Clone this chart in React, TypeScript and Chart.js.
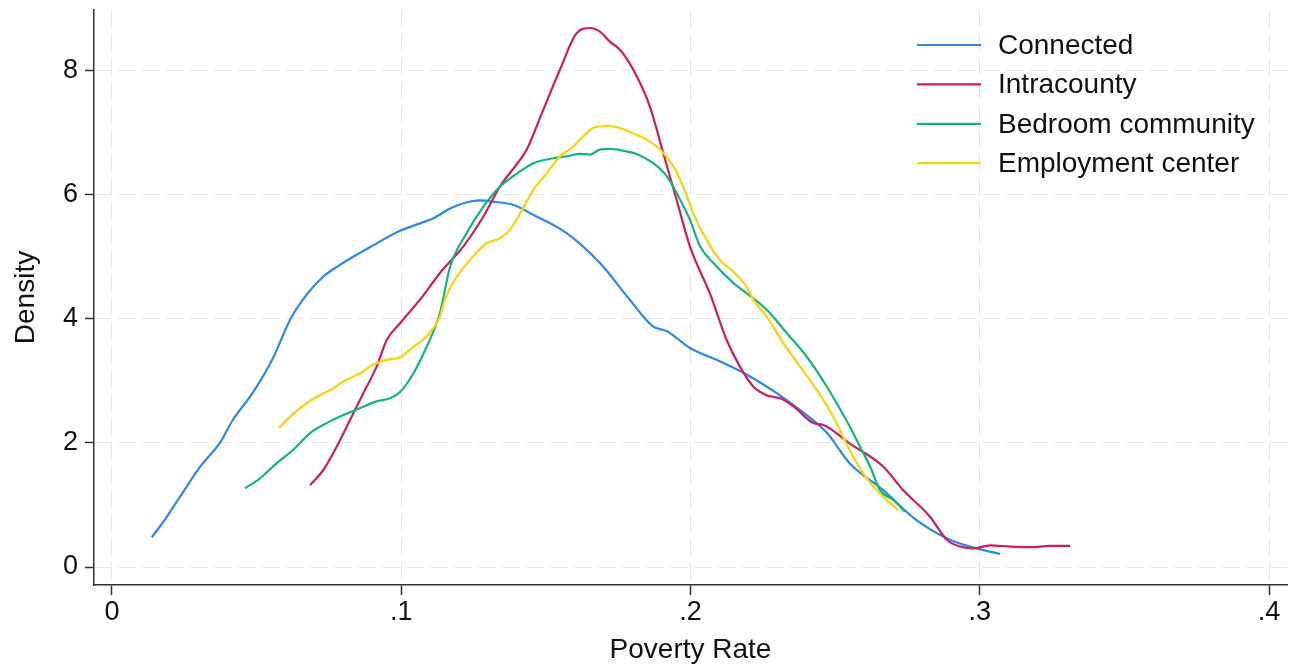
import React, { useEffect, useRef } from "react";
import { Chart, registerables } from "chart.js";

Chart.register(...registerables);

const seriesLabels = ["Connected", "Intracounty", "Bedroom community", "Employment center"];
const seriesColors = ["#2a88ee", "#cf1c5c", "#14b47c", "#f8d20c"];

const xTickValues = [0, 0.1, 0.2, 0.3, 0.4];
const xTickLabels = ["0", ".1", ".2", ".3", ".4"];
const yTickValues = [0, 2, 4, 6, 8];
const yTickLabels = ["0", "2", "4", "6", "8"];

const connectedX = [0.0138, 0.019, 0.0235, 0.0304, 0.0373, 0.0418, 0.0487, 0.0557, 0.0615, 0.066, 0.073, 0.0788, 0.089, 0.0996, 0.1065, 0.111, 0.1169, 0.1227, 0.1272, 0.1317, 0.1386, 0.1456, 0.1573, 0.1687, 0.179, 0.187, 0.1919, 0.1998, 0.209, 0.2195, 0.2299, 0.2379, 0.2472, 0.2551, 0.2666, 0.278, 0.2897, 0.299, 0.307];
const connectedY = [0.48, 0.81, 1.13, 1.61, 2.0, 2.37, 2.81, 3.37, 3.98, 4.31, 4.68, 4.87, 5.15, 5.42, 5.54, 5.62, 5.78, 5.88, 5.91, 5.89, 5.84, 5.68, 5.38, 4.9, 4.31, 3.88, 3.8, 3.53, 3.34, 3.1, 2.8, 2.53, 2.16, 1.67, 1.24, 0.76, 0.44, 0.3, 0.21];

const intracountyX = [0.0685, 0.073, 0.0777, 0.0823, 0.0869, 0.0915, 0.095, 0.0996, 0.1065, 0.1134, 0.1215, 0.1284, 0.1341, 0.141, 0.1434, 0.1491, 0.1549, 0.1607, 0.1653, 0.1687, 0.1721, 0.1756, 0.1802, 0.186, 0.1906, 0.1952, 0.1998, 0.2067, 0.2125, 0.2171, 0.2217, 0.2263, 0.231, 0.2356, 0.2425, 0.2459, 0.2551, 0.2666, 0.2735, 0.2828, 0.2886, 0.2932, 0.2978, 0.3035, 0.3105, 0.3174, 0.3243, 0.3312];
const intracountyY = [1.32, 1.56, 1.94, 2.37, 2.8, 3.23, 3.66, 3.93, 4.31, 4.74, 5.17, 5.65, 6.13, 6.56, 6.73, 7.37, 8.02, 8.61, 8.69, 8.63, 8.47, 8.34, 8.02, 7.42, 6.67, 5.92, 5.17, 4.41, 3.66, 3.23, 2.91, 2.77, 2.72, 2.59, 2.32, 2.29, 1.99, 1.62, 1.24, 0.81, 0.44, 0.33, 0.3, 0.35, 0.33, 0.32, 0.34, 0.34];

const bedroomX = [0.046, 0.0512, 0.0569, 0.0627, 0.0685, 0.0742, 0.08, 0.0857, 0.0915, 0.0961, 0.0996, 0.1042, 0.1088, 0.1134, 0.1169, 0.1226, 0.1284, 0.1341, 0.1387, 0.1457, 0.1526, 0.1572, 0.1618, 0.1653, 0.1687, 0.1722, 0.1779, 0.1814, 0.1871, 0.1918, 0.1952, 0.1998, 0.2033, 0.2079, 0.2148, 0.2217, 0.2263, 0.2333, 0.2402, 0.2471, 0.2551, 0.2586, 0.2621, 0.2655, 0.2701, 0.2742];
const bedroomY = [1.27, 1.43, 1.67, 1.89, 2.16, 2.32, 2.45, 2.56, 2.67, 2.72, 2.82, 3.12, 3.55, 4.1, 4.84, 5.38, 5.81, 6.13, 6.3, 6.51, 6.59, 6.62, 6.66, 6.65, 6.73, 6.74, 6.7, 6.66, 6.51, 6.3, 6.03, 5.6, 5.17, 4.9, 4.58, 4.33, 4.15, 3.77, 3.39, 2.91, 2.26, 1.94, 1.62, 1.24, 1.08, 0.89];

const employmentX = [0.0578, 0.0615, 0.0673, 0.0731, 0.0754, 0.08, 0.0857, 0.0903, 0.095, 0.0996, 0.1042, 0.1088, 0.1134, 0.1151, 0.1192, 0.1249, 0.1295, 0.1341, 0.1376, 0.1411, 0.1457, 0.1503, 0.1549, 0.1595, 0.1629, 0.1664, 0.171, 0.1756, 0.1802, 0.1849, 0.1895, 0.1941, 0.1975, 0.201, 0.2056, 0.2102, 0.2148, 0.2194, 0.2217, 0.2263, 0.2321, 0.2379, 0.2437, 0.2494, 0.2551, 0.2597, 0.2632, 0.2678, 0.2718];
const employmentY = [2.24, 2.42, 2.64, 2.8, 2.85, 2.99, 3.12, 3.26, 3.34, 3.38, 3.55, 3.72, 4.04, 4.31, 4.68, 5.01, 5.22, 5.3, 5.44, 5.7, 6.08, 6.35, 6.62, 6.78, 6.94, 7.08, 7.11, 7.08, 6.99, 6.89, 6.73, 6.46, 6.13, 5.7, 5.27, 4.95, 4.76, 4.52, 4.31, 4.04, 3.61, 3.23, 2.85, 2.42, 1.88, 1.51, 1.3, 1.08, 0.92];

const seriesX = [connectedX, intracountyX, bedroomX, employmentX];
const seriesY = [connectedY, intracountyY, bedroomY, employmentY];

const FONT = "'Liberation Sans', Arial, Helvetica, sans-serif";

const legendPlugin = {
  id: "stataLegend",
  afterDraw(chart: any) {
    const ctx = chart.ctx;
    ctx.save();
    chart.data.datasets.forEach((ds: any, i: number) => {
      const y = 45 + i * 39.4;
      ctx.strokeStyle = ds.borderColor;
      ctx.lineWidth = 2.2;
      ctx.beginPath();
      ctx.moveTo(917, y);
      ctx.lineTo(981, y);
      ctx.stroke();
      ctx.fillStyle = "#111";
      ctx.font = `28px ${FONT}`;
      ctx.textAlign = "left";
      ctx.textBaseline = "middle";
      ctx.fillText(ds.label, 998, y + 1);
    });
    ctx.restore();
  },
};

export default function App() {
  const ref = useRef<HTMLCanvasElement | null>(null);
  useEffect(() => {
    if (!ref.current) return;
    const datasets = seriesLabels.map((label, i) => ({
      label,
      data: seriesX[i].map((x, j) => ({ x, y: seriesY[i][j] })),
      borderColor: seriesColors[i],
      backgroundColor: seriesColors[i],
      borderWidth: 2.2,
      pointRadius: 0,
      showLine: true,
      cubicInterpolationMode: "monotone" as const,
      fill: false,
      order: 4 - i,
    }));
    const chart = new Chart(ref.current, {
      type: "scatter",
      data: { datasets },
      plugins: [legendPlugin],
      options: {
        responsive: false,
        animation: false,
        layout: { padding: { top: 10, right: 4, left: 0, bottom: 0 } },
        plugins: { legend: { display: false }, tooltip: { enabled: false } },
        scales: {
          x: {
            type: "linear",
            min: -0.0062,
            max: 0.4062,
            afterBuildTicks: (s: any) => {
              s.ticks = xTickValues.map((v) => ({ value: v }));
            },
            afterFit: (s: any) => {
              s.height = 86;
              s.paddingLeft = 0;
              s.paddingRight = 0;
            },
            ticks: {
              autoSkip: false,
              maxRotation: 0,
              padding: 1,
              color: "#111",
              font: { family: FONT, size: 27 },
              callback: (v: any) => xTickLabels[xTickValues.indexOf(Number(v))] ?? "",
            },
            grid: {
              color: "#e6e6e6",
              lineWidth: 1,
              tickLength: 10,
              tickColor: "#333",
              tickWidth: 1.5,
            },
            border: { display: true, color: "#333", width: 1.5, dash: [17, 7] },
            title: {
              display: true,
              text: "Poverty Rate",
              color: "#111",
              font: { family: FONT, size: 28 },
              padding: { top: 0, bottom: 4 },
            },
          },
          y: {
            type: "linear",
            min: -0.29,
            max: 8.98,
            afterBuildTicks: (s: any) => {
              s.ticks = yTickValues.map((v) => ({ value: v }));
            },
            afterFit: (s: any) => {
              s.width = 94;
              s.paddingTop = 0;
              s.paddingBottom = 0;
            },
            ticks: {
              autoSkip: false,
              padding: 7,
              color: "#111",
              font: { family: FONT, size: 27 },
              callback: (v: any) => yTickLabels[yTickValues.indexOf(Number(v))] ?? "",
            },
            grid: {
              color: "#e6e6e6",
              lineWidth: 1,
              tickLength: 9,
              tickColor: "#333",
              tickWidth: 1.5,
            },
            border: { display: true, color: "#333", width: 1.5, dash: [17, 7] },
            title: {
              display: true,
              text: "Density",
              color: "#111",
              font: { family: FONT, size: 28 },
              padding: { top: 9, bottom: 0 },
            },
          },
        },
      },
    });
    return () => chart.destroy();
  }, []);
  return (
    <div style={{ position: "fixed", left: 0, top: 0, width: 1291, height: 671, background: "#fff" }}>
      <canvas ref={ref} width={1291} height={671} style={{ width: 1291, height: 671, display: "block" }} />
    </div>
  );
}
